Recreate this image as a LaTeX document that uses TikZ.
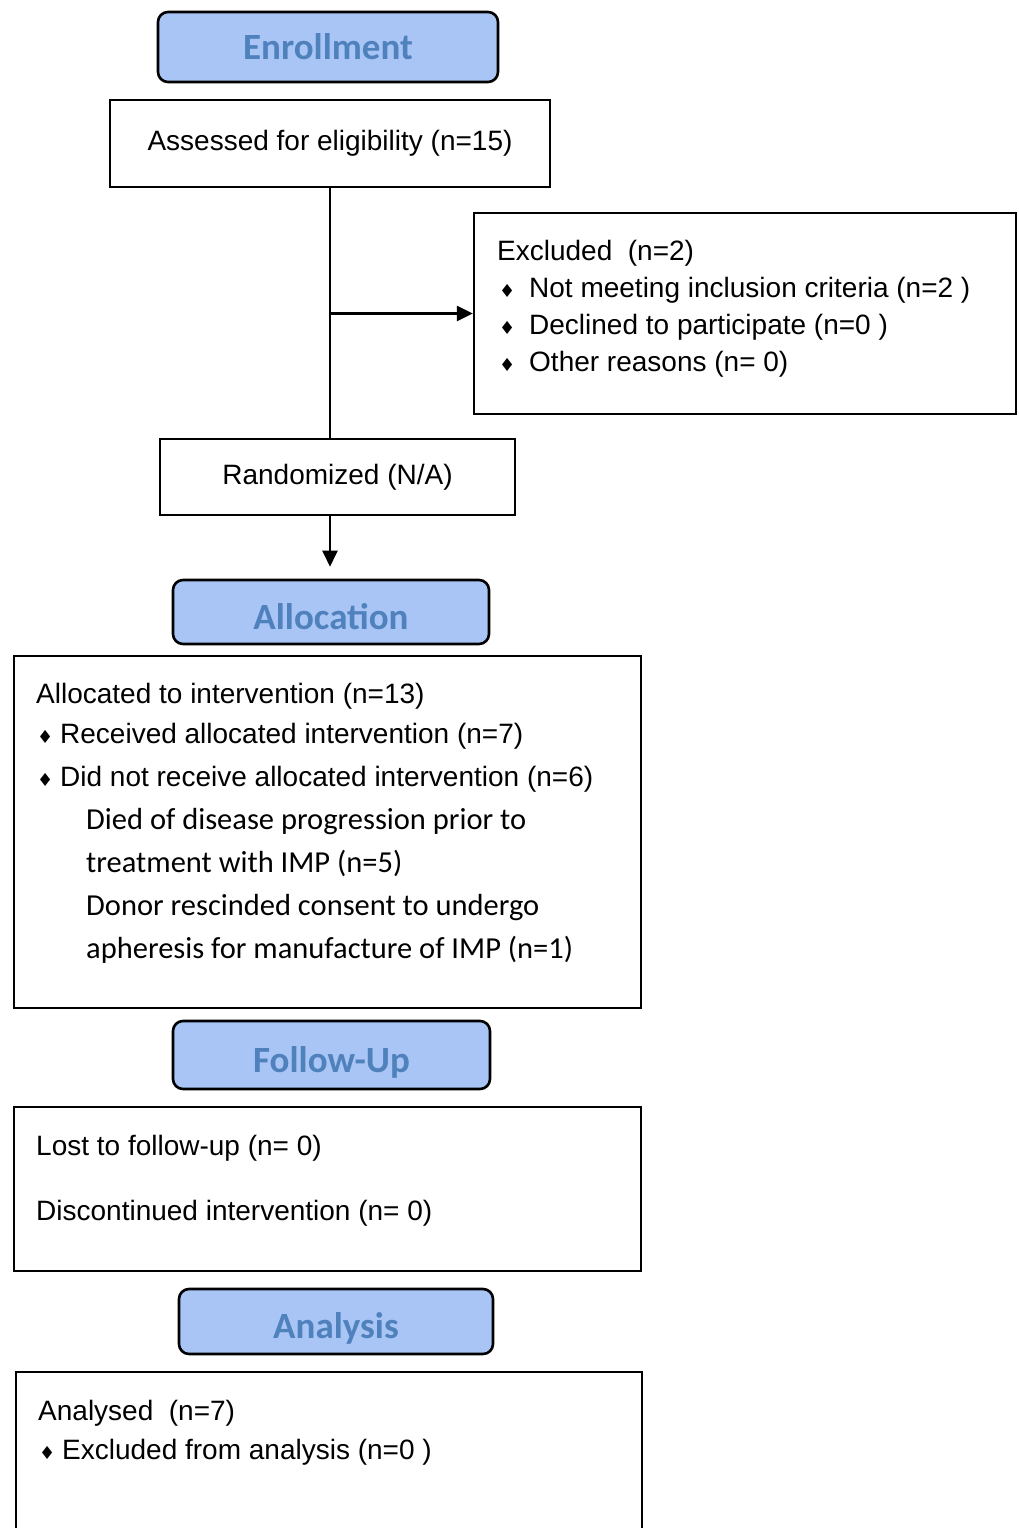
\documentclass[tikz,border=0pt]{standalone}
\usepackage{fontspec}
\setmainfont{Liberation Sans}
\newfontfamily\calibri{Carlito}
\newfontfamily\dejavu{DejaVu Sans}
\usetikzlibrary{arrows.meta}
\definecolor{headfill}{RGB}{169,197,245}
\definecolor{headtext}{RGB}{79,129,189}
\newcommand{\bul}{{\dejavu\fontsize{18}{18}\selectfont ♦}}

\begin{document}
\begin{tikzpicture}[x=1pt, y=-1pt,
    font=\fontsize{28}{37}\selectfont,
    head/.style={draw, line width=2.6pt, rounded corners=10pt, fill=headfill,
                 text=headtext, inner sep=0pt,
                 font=\calibri\bfseries\fontsize{37}{37}\selectfont},
    headlow/.style={head, text height=34pt, text depth=0pt},
    box/.style={draw, line width=2.3pt, inner sep=0pt},
    txt/.style={anchor=north west, align=left, inner sep=0pt},
    arr/.style={-{Triangle[length=16pt,width=15pt]}, line width=2.3pt},
  ]
    \useasboundingbox (0,0) rectangle (1019,1528);

    % Enrollment
    \node[head, minimum width=340, minimum height=70] (enrol) at (328,47) {Enrollment};
    \node[box, minimum width=440, minimum height=87] (assess) at (330,143.5)
      {Assessed for eligibility (n=15)};
    \node[box, minimum width=542, minimum height=201] (excl) at (745,313.5) {};
    \node[txt] (excltxt) at (497,240)
      {Excluded\ \ (n=2)\\
       \hspace{2pt}\makebox[30pt][l]{\bul}Not meeting inclusion criteria (n=2 )\\
       \hspace{2pt}\makebox[30pt][l]{\bul}Declined to participate (n=0 )\\
       \hspace{2pt}\makebox[30pt][l]{\bul}Other reasons (n= 0)};
    \node[box, minimum width=355, minimum height=76] (rand) at (337.5,477)
      {Randomized (N/A)};

    % Allocation
    \node[headlow, minimum width=316, minimum height=64] (allochead) at (331,612) {Allocation};
    \node[box, minimum width=627, minimum height=352] (alloc) at (327.5,832) {};
    \node[txt, font=\fontsize{28}{43}\selectfont] (alloctxt) at (36,683)
      {Allocated to intervention (n=13)\\[-3pt]
       \makebox[24pt][l]{\hspace{1pt}\bul}Received allocated intervention (n=7)\\
       \makebox[24pt][l]{\hspace{1pt}\bul}Did not receive allocated intervention (n=6)\\
       \hspace{50pt}{\calibri\fontsize{30.5}{43}\selectfont Died of disease progression prior to}\\
       \hspace{50pt}{\calibri\fontsize{30.5}{43}\selectfont treatment with IMP (n=5)}\\
       \hspace{50pt}{\calibri\fontsize{30.5}{43}\selectfont Donor rescinded consent to undergo}\\
       \hspace{50pt}{\calibri\fontsize{30.5}{43}\selectfont apheresis for manufacture of IMP (n=1)}};

    % Follow-Up
    \node[headlow, minimum width=317, minimum height=68] (followhead) at (331.5,1055) {Follow-Up};
    \node[box, minimum width=627, minimum height=164] (follow) at (327.5,1189) {};
    \node[txt, font=\fontsize{28}{65}\selectfont] (followtxt) at (36,1135)
      {Lost to follow-up (n= 0)\\
       Discontinued intervention (n= 0)};

    % Analysis
    \node[headlow, minimum width=314, minimum height=65] (analhead) at (336,1321.5) {Analysis};
    \node[box, minimum width=626, minimum height=176] (anal) at (329,1460) {};
    \node[txt, font=\fontsize{28}{39}\selectfont] (analtxt) at (38,1400)
      {Analysed\ \ (n=7)\\
       \makebox[24pt][l]{\hspace{1pt}\bul}Excluded from analysis (n=0 )};

    % arrows
    \draw[line width=2.3pt] (assess.south) -- (assess.south |- rand.north);
    \draw[arr] (assess.south |- excl.west) -- (excl.west);
    \draw[arr, shorten >=12pt] (assess.south |- rand.south) -- (assess.south |- allochead.north);
\end{tikzpicture}
\end{document}
